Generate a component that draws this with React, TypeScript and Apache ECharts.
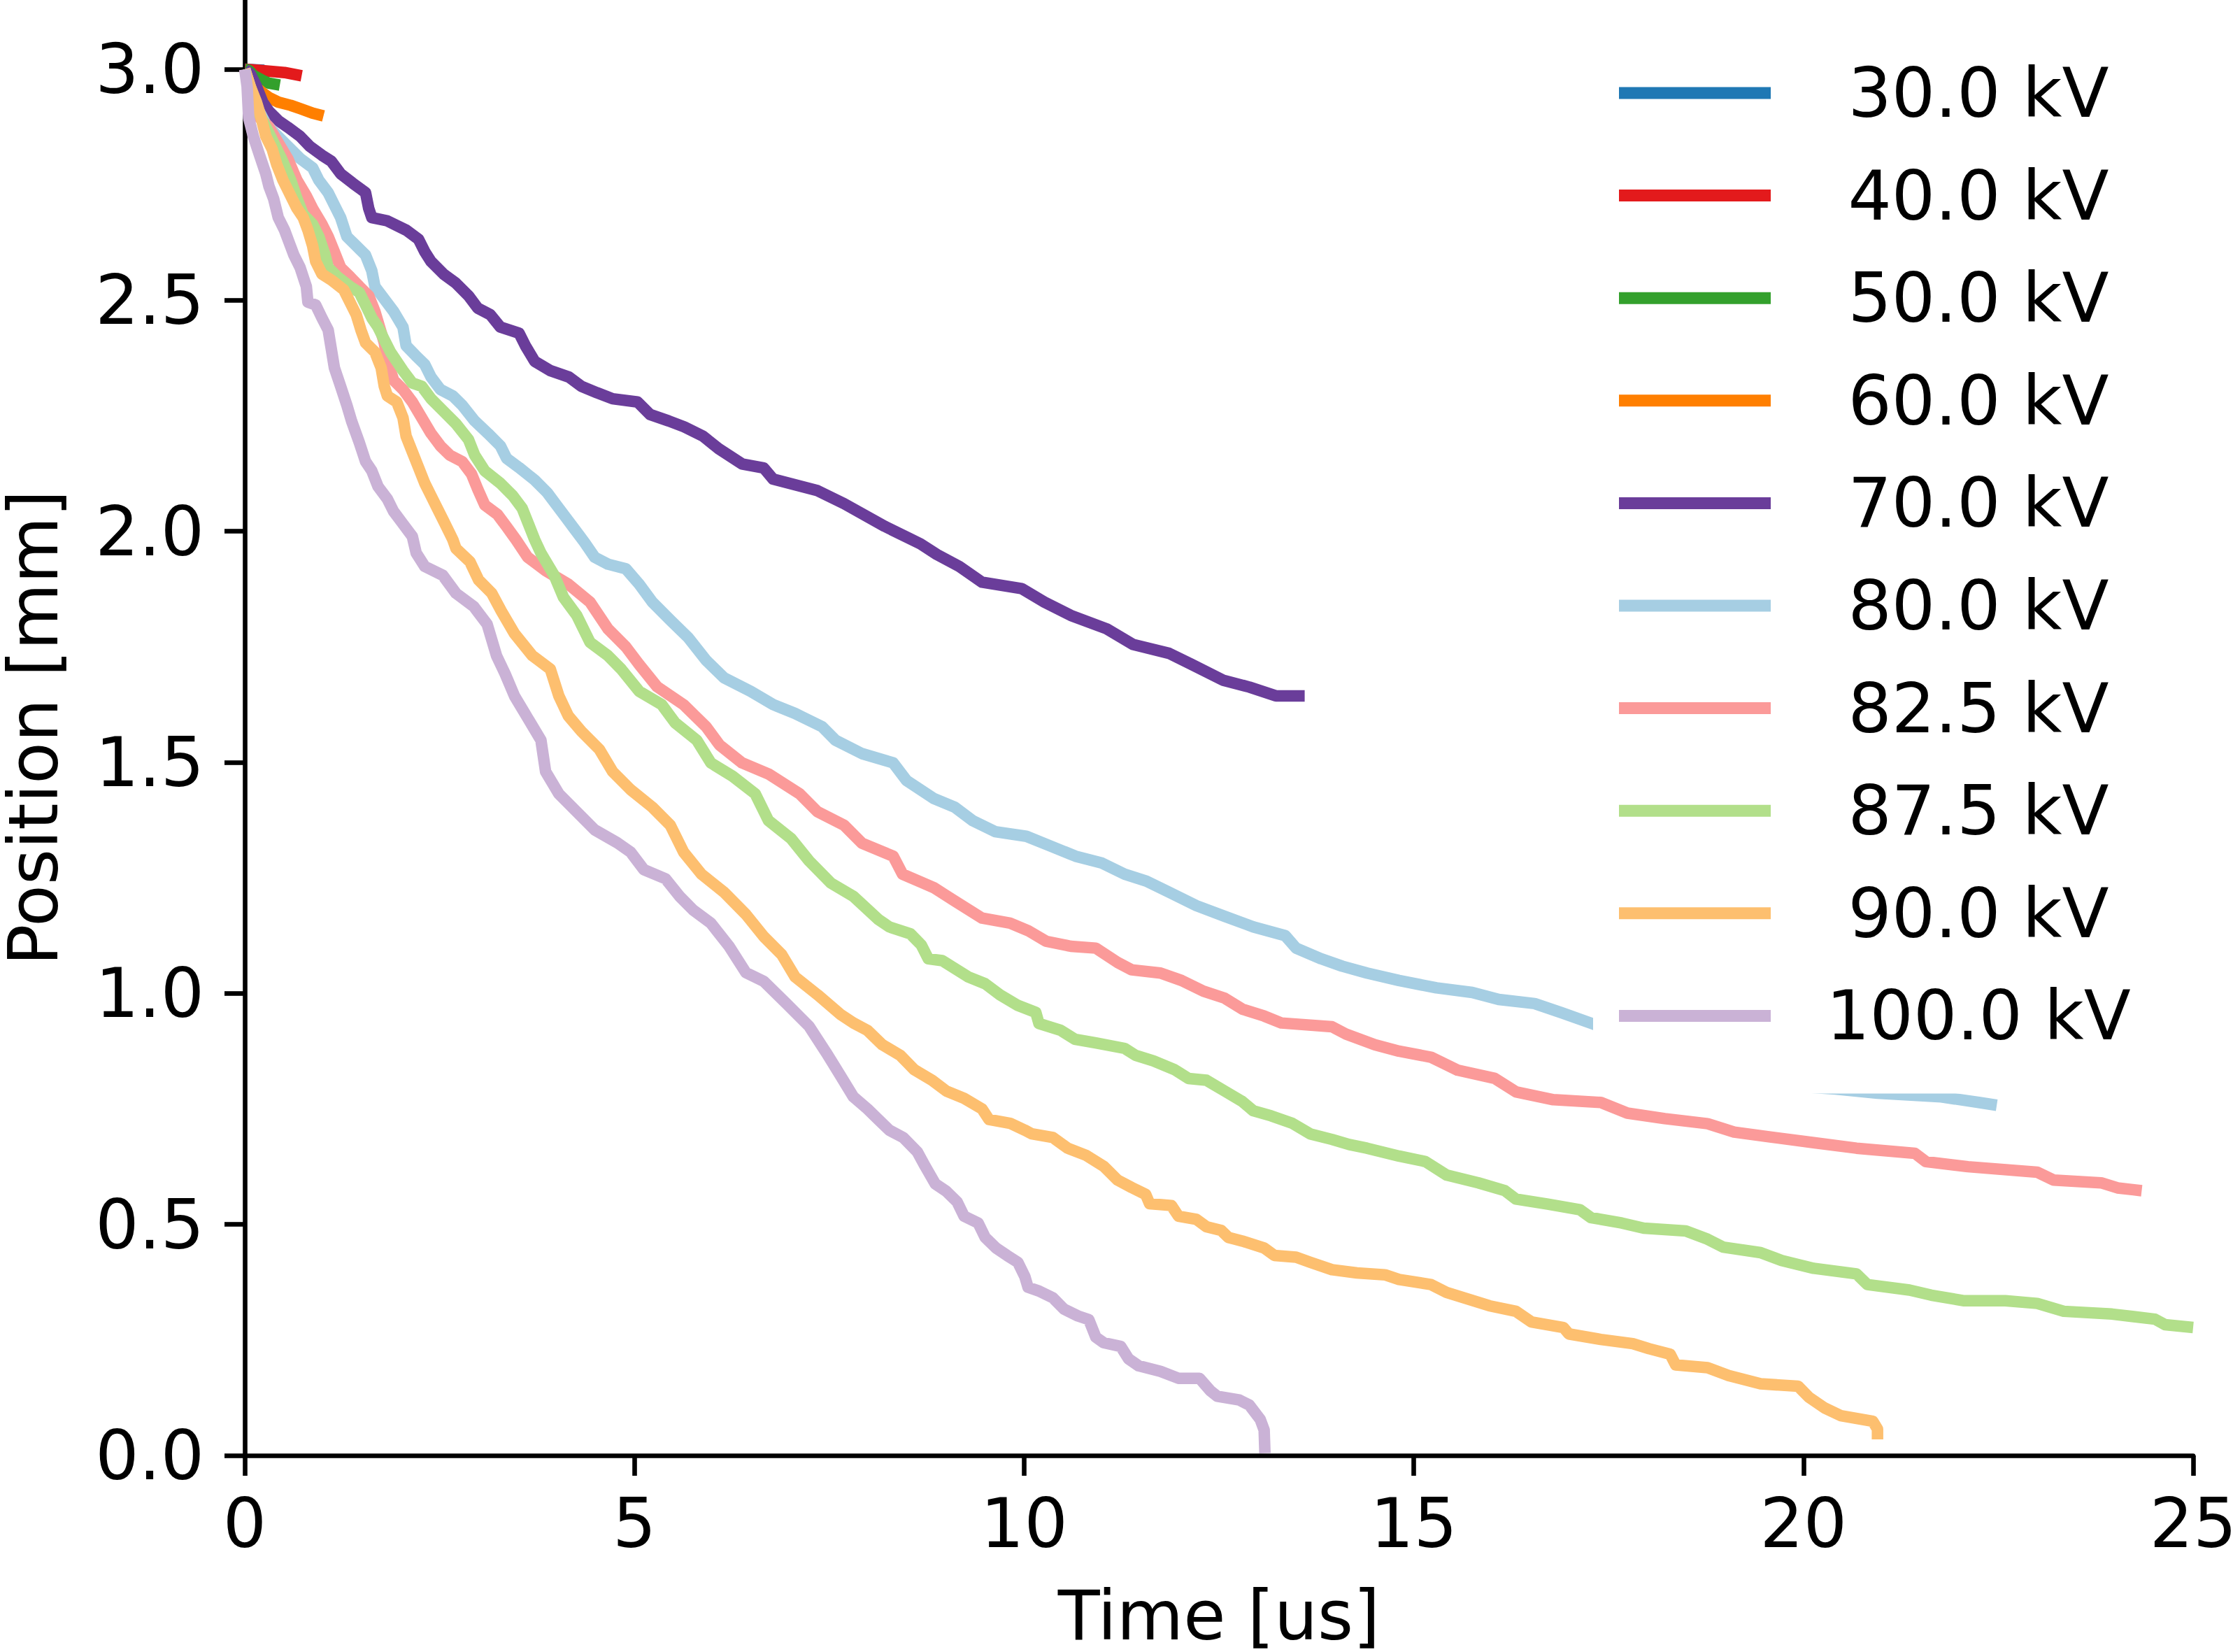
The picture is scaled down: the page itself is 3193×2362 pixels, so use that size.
import React, { useEffect, useRef } from "react";
import * as echarts from "echarts";

// Legend names (series order)
const names = ["30.0 kV", "40.0 kV", "50.0 kV", "60.0 kV", "70.0 kV", "80.0 kV", "82.5 kV", "87.5 kV", "90.0 kV", "100.0 kV"];
const colors = ["#1f78b4", "#e31a1c", "#33a02c", "#ff7f00", "#6a3d9a", "#a6cee3", "#fb9a99", "#b2df8a", "#fdbf6f", "#cab2d6"];

const xTicks = [0, 5, 10, 15, 20, 25];
const yTicks = [0, 0.5, 1, 1.5, 2, 2.5, 3];

// [time (us), position (mm)]
const kv30 = [[0, 3.0], [0.12, 2.999], [0.25, 2.998]];
const kv40 = [[0, 3.0], [0.23, 2.997], [0.51, 2.993], [0.73, 2.986]];
const kv50 = [[0, 3.0], [0.05, 2.998], [0.11, 2.987], [0.23, 2.976], [0.31, 2.97], [0.45, 2.966]];
const kv60 = [[0, 3.0], [0.07, 2.976], [0.13, 2.963], [0.23, 2.949], [0.31, 2.939], [0.43, 2.929], [0.59, 2.922], [0.71, 2.915], [0.87, 2.905], [1.01, 2.899]];
const kv70 = [[0, 3.0], [0.07, 2.99], [0.15, 2.963], [0.23, 2.929], [0.31, 2.909], [0.43, 2.889], [0.55, 2.875], [0.71, 2.855], [0.83, 2.834], [0.99, 2.814], [1.11, 2.801], [1.23, 2.774], [1.39, 2.753], [1.55, 2.733], [1.59, 2.699], [1.63, 2.679], [1.83, 2.672], [2.07, 2.652], [2.23, 2.632], [2.31, 2.605], [2.39, 2.584], [2.55, 2.557], [2.71, 2.537], [2.87, 2.51], [2.99, 2.483], [3.15, 2.469], [3.28, 2.442], [3.52, 2.429], [3.6, 2.402], [3.72, 2.368], [3.92, 2.348], [4.16, 2.334], [4.32, 2.314], [4.52, 2.3], [4.72, 2.287], [5.04, 2.28], [5.2, 2.253], [5.44, 2.239], [5.64, 2.226], [5.88, 2.206], [6.08, 2.179], [6.38, 2.146], [6.66, 2.137], [6.78, 2.113], [7.35, 2.088], [7.69, 2.06], [8.21, 2.011], [8.67, 1.973], [8.88, 1.95], [9.17, 1.924], [9.46, 1.89], [9.97, 1.876], [10.26, 1.847], [10.6, 1.818], [11.06, 1.789], [11.4, 1.755], [11.86, 1.736], [12.15, 1.712], [12.55, 1.678], [12.89, 1.663], [13.23, 1.644], [13.6, 1.644]];
const kv80 = [[0, 3.0], [0.15, 2.92], [0.27, 2.882], [0.39, 2.861], [0.55, 2.834], [0.71, 2.807], [0.87, 2.787], [0.95, 2.76], [1.07, 2.733], [1.15, 2.706], [1.23, 2.679], [1.31, 2.638], [1.43, 2.618], [1.55, 2.598], [1.63, 2.564], [1.67, 2.53], [1.79, 2.503], [1.91, 2.476], [2.03, 2.442], [2.07, 2.402], [2.19, 2.381], [2.31, 2.361], [2.39, 2.334], [2.51, 2.307], [2.67, 2.293], [2.79, 2.273], [2.95, 2.239], [3.12, 2.212], [3.28, 2.185], [3.36, 2.158], [3.52, 2.138], [3.72, 2.111], [3.88, 2.084], [4.0, 2.057], [4.12, 2.03], [4.24, 2.003], [4.36, 1.976], [4.49, 1.944], [4.66, 1.929], [4.89, 1.919], [5.06, 1.886], [5.23, 1.847], [5.46, 1.808], [5.69, 1.77], [5.92, 1.721], [6.15, 1.683], [6.49, 1.654], [6.78, 1.625], [7.06, 1.606], [7.41, 1.577], [7.58, 1.548], [7.92, 1.519], [8.32, 1.499], [8.49, 1.461], [8.84, 1.422], [9.11, 1.403], [9.34, 1.374], [9.63, 1.35], [10.03, 1.34], [10.31, 1.321], [10.66, 1.297], [11.0, 1.282], [11.29, 1.258], [11.57, 1.243], [11.86, 1.219], [12.21, 1.19], [12.57, 1.167], [12.94, 1.144], [13.35, 1.125], [13.49, 1.098], [13.81, 1.075], [14.08, 1.059], [14.4, 1.044], [14.81, 1.028], [15.29, 1.012], [15.75, 1.002], [16.09, 0.987], [16.55, 0.978], [16.9, 0.958], [17.3, 0.934], [18.0, 0.89], [18.8, 0.85], [19.8, 0.8], [20.41, 0.793], [20.95, 0.784], [21.77, 0.776], [22.25, 0.764], [22.48, 0.758]];
const kv825 = [[0, 3.0], [0.15, 2.902], [0.31, 2.875], [0.43, 2.841], [0.55, 2.807], [0.67, 2.76], [0.79, 2.726], [0.87, 2.699], [0.99, 2.665], [1.07, 2.638], [1.15, 2.605], [1.23, 2.571], [1.35, 2.551], [1.47, 2.53], [1.59, 2.51], [1.67, 2.476], [1.73, 2.442], [1.79, 2.408], [1.83, 2.368], [1.91, 2.327], [2.03, 2.307], [2.15, 2.28], [2.27, 2.246], [2.39, 2.212], [2.51, 2.185], [2.63, 2.165], [2.79, 2.151], [2.91, 2.124], [2.99, 2.091], [3.08, 2.057], [3.24, 2.037], [3.36, 2.01], [3.48, 1.982], [3.63, 1.944], [3.86, 1.915], [4.15, 1.886], [4.43, 1.847], [4.66, 1.789], [4.89, 1.75], [5.06, 1.712], [5.29, 1.664], [5.63, 1.625], [5.92, 1.577], [6.09, 1.538], [6.38, 1.499], [6.72, 1.475], [7.12, 1.432], [7.35, 1.393], [7.69, 1.364], [7.92, 1.325], [8.32, 1.297], [8.44, 1.258], [8.84, 1.229], [9.11, 1.2], [9.46, 1.163], [9.82, 1.152], [10.05, 1.136], [10.28, 1.113], [10.6, 1.102], [10.92, 1.098], [11.2, 1.067], [11.38, 1.051], [11.75, 1.044], [12.02, 1.028], [12.3, 1.005], [12.57, 0.99], [12.8, 0.966], [13.08, 0.951], [13.3, 0.936], [13.95, 0.928], [14.13, 0.912], [14.5, 0.889], [14.81, 0.875], [15.22, 0.862], [15.56, 0.834], [16.04, 0.816], [16.31, 0.787], [16.79, 0.77], [17.4, 0.764], [17.74, 0.741], [18.22, 0.729], [18.77, 0.718], [19.11, 0.7], [19.59, 0.689], [20.13, 0.677], [20.68, 0.665], [21.43, 0.654], [21.57, 0.636], [22.11, 0.625], [23.0, 0.613], [23.21, 0.596], [23.82, 0.59], [24.03, 0.579], [24.34, 0.573]];
const kv875 = [[0, 3.0], [0.11, 2.929], [0.23, 2.889], [0.35, 2.848], [0.47, 2.807], [0.59, 2.76], [0.67, 2.72], [0.75, 2.686], [0.87, 2.665], [0.95, 2.638], [1.03, 2.598], [1.07, 2.571], [1.19, 2.551], [1.35, 2.53], [1.47, 2.517], [1.55, 2.49], [1.63, 2.462], [1.71, 2.442], [1.79, 2.415], [1.87, 2.388], [1.95, 2.368], [2.03, 2.348], [2.15, 2.321], [2.27, 2.314], [2.39, 2.287], [2.55, 2.26], [2.71, 2.233], [2.87, 2.199], [2.95, 2.165], [3.08, 2.131], [3.28, 2.104], [3.44, 2.077], [3.56, 2.05], [3.64, 2.016], [3.72, 1.982], [3.8, 1.953], [3.97, 1.905], [4.09, 1.857], [4.26, 1.818], [4.43, 1.76], [4.66, 1.731], [4.83, 1.702], [5.06, 1.654], [5.35, 1.625], [5.52, 1.586], [5.8, 1.548], [5.98, 1.499], [6.26, 1.47], [6.55, 1.432], [6.72, 1.374], [7.01, 1.335], [7.24, 1.287], [7.52, 1.239], [7.81, 1.21], [8.13, 1.16], [8.27, 1.144], [8.54, 1.129], [8.68, 1.105], [8.77, 1.075], [8.95, 1.071], [9.14, 1.051], [9.28, 1.036], [9.5, 1.021], [9.69, 0.997], [9.92, 0.974], [10.15, 0.959], [10.19, 0.935], [10.47, 0.92], [10.65, 0.901], [10.92, 0.893], [11.29, 0.881], [11.43, 0.866], [11.66, 0.854], [11.93, 0.835], [12.11, 0.816], [12.34, 0.812], [12.57, 0.789], [12.8, 0.766], [12.94, 0.746], [13.17, 0.735], [13.44, 0.719], [13.67, 0.696], [13.95, 0.684], [14.17, 0.673], [14.4, 0.665], [14.81, 0.648], [15.15, 0.636], [15.42, 0.607], [15.83, 0.59], [16.17, 0.573], [16.31, 0.555], [16.72, 0.544], [17.13, 0.532], [17.27, 0.515], [17.67, 0.503], [17.95, 0.492], [18.49, 0.486], [18.77, 0.468], [18.97, 0.451], [19.45, 0.439], [19.72, 0.422], [20.13, 0.405], [20.68, 0.393], [20.82, 0.37], [21.36, 0.358], [21.64, 0.347], [22.05, 0.335], [22.59, 0.335], [23.0, 0.329], [23.34, 0.312], [23.96, 0.306], [24.51, 0.295], [24.64, 0.283], [25.0, 0.277]];
const kv90 = [[0, 3.0], [0.07, 2.963], [0.15, 2.929], [0.21, 2.895], [0.27, 2.855], [0.35, 2.828], [0.41, 2.794], [0.49, 2.76], [0.59, 2.726], [0.67, 2.699], [0.75, 2.679], [0.81, 2.652], [0.87, 2.618], [0.91, 2.584], [0.99, 2.557], [1.11, 2.544], [1.27, 2.523], [1.35, 2.496], [1.43, 2.469], [1.49, 2.436], [1.55, 2.408], [1.67, 2.388], [1.75, 2.354], [1.79, 2.314], [1.83, 2.293], [1.95, 2.28], [2.03, 2.246], [2.07, 2.206], [2.15, 2.172], [2.23, 2.138], [2.31, 2.104], [2.39, 2.077], [2.47, 2.05], [2.55, 2.023], [2.67, 1.982], [2.71, 1.963], [2.89, 1.934], [3.0, 1.895], [3.17, 1.866], [3.29, 1.828], [3.46, 1.779], [3.69, 1.731], [3.92, 1.702], [4.03, 1.644], [4.15, 1.601], [4.32, 1.567], [4.55, 1.528], [4.72, 1.48], [4.95, 1.441], [5.23, 1.403], [5.46, 1.364], [5.63, 1.306], [5.86, 1.258], [6.15, 1.219], [6.43, 1.171], [6.66, 1.123], [6.89, 1.084], [7.06, 1.036], [7.35, 0.997], [7.64, 0.955], [7.81, 0.936], [7.99, 0.92], [8.18, 0.889], [8.41, 0.866], [8.59, 0.835], [8.82, 0.812], [9.0, 0.789], [9.23, 0.773], [9.46, 0.75], [9.55, 0.727], [9.82, 0.719], [10.01, 0.704], [10.1, 0.696], [10.37, 0.688], [10.56, 0.665], [10.79, 0.65], [11.02, 0.626], [11.2, 0.596], [11.38, 0.58], [11.56, 0.565], [11.61, 0.545], [11.89, 0.541], [11.98, 0.518], [12.21, 0.511], [12.34, 0.495], [12.53, 0.487], [12.62, 0.472], [12.8, 0.464], [13.08, 0.449], [13.21, 0.433], [13.49, 0.429], [13.67, 0.418], [13.95, 0.402], [14.27, 0.395], [14.63, 0.391], [14.81, 0.381], [15.22, 0.37], [15.42, 0.353], [15.76, 0.335], [15.97, 0.324], [16.31, 0.312], [16.51, 0.289], [16.92, 0.277], [16.99, 0.263], [17.4, 0.251], [17.81, 0.242], [18.02, 0.231], [18.29, 0.219], [18.36, 0.196], [18.77, 0.19], [19.04, 0.173], [19.45, 0.155], [19.93, 0.15], [20.07, 0.126], [20.27, 0.103], [20.48, 0.086], [20.89, 0.074], [20.95, 0.057], [20.95, 0.035]];
const kv100 = [[0, 3.0], [0.03, 2.963], [0.05, 2.895], [0.11, 2.855], [0.19, 2.814], [0.27, 2.774], [0.31, 2.747], [0.37, 2.72], [0.43, 2.679], [0.51, 2.652], [0.57, 2.625], [0.63, 2.598], [0.71, 2.571], [0.79, 2.53], [0.81, 2.496], [0.91, 2.49], [0.99, 2.462], [1.07, 2.436], [1.11, 2.395], [1.15, 2.354], [1.23, 2.314], [1.31, 2.273], [1.37, 2.239], [1.47, 2.192], [1.55, 2.151], [1.63, 2.131], [1.71, 2.097], [1.83, 2.07], [1.91, 2.043], [2.03, 2.016], [2.15, 1.989], [2.2, 1.953], [2.31, 1.924], [2.54, 1.905], [2.71, 1.866], [2.94, 1.837], [3.11, 1.799], [3.23, 1.731], [3.34, 1.692], [3.46, 1.644], [3.63, 1.596], [3.8, 1.548], [3.86, 1.48], [4.03, 1.432], [4.26, 1.393], [4.49, 1.354], [4.78, 1.326], [4.95, 1.306], [5.12, 1.268], [5.4, 1.248], [5.58, 1.21], [5.75, 1.181], [5.98, 1.152], [6.21, 1.103], [6.43, 1.045], [6.66, 1.026], [6.95, 0.978], [7.24, 0.929], [7.46, 0.872], [7.64, 0.823], [7.81, 0.776], [7.99, 0.75], [8.13, 0.727], [8.27, 0.704], [8.45, 0.688], [8.63, 0.657], [8.73, 0.626], [8.86, 0.588], [9.0, 0.572], [9.14, 0.549], [9.23, 0.518], [9.41, 0.503], [9.5, 0.472], [9.64, 0.449], [9.78, 0.433], [9.92, 0.418], [10.01, 0.387], [10.05, 0.364], [10.19, 0.356], [10.37, 0.341], [10.51, 0.317], [10.69, 0.302], [10.83, 0.294], [10.92, 0.256], [11.02, 0.244], [11.24, 0.236], [11.34, 0.209], [11.47, 0.194], [11.75, 0.182], [11.98, 0.167], [12.25, 0.167], [12.39, 0.14], [12.48, 0.128], [12.76, 0.12], [12.89, 0.109], [13.03, 0.078], [13.08, 0.055], [13.09, 0.005]];

const seriesData = [kv30, kv40, kv50, kv60, kv70, kv80, kv825, kv875, kv90, kv100];

const FONT = "DejaVu Sans";

export default function App() {
  const ref = useRef<HTMLDivElement>(null);
  useEffect(() => {
    document.body.style.margin = "0";
    const chart = echarts.init(ref.current as HTMLDivElement, null, { renderer: "svg" });
    const axisLineStyle = { color: "#000", width: 6.6 };
    chart.setOption({
      animation: false,
      backgroundColor: "#fff",
      grid: { left: 350, right: 57, top: 0, bottom: 281, containLabel: false, outerBoundsMode: "none" },
      xAxis: {
        type: "value",
        min: 0,
        max: 25,
        interval: 5,
        name: "Time [us]",
        nameLocation: "middle",
        nameGap: 180,
        nameTextStyle: { fontFamily: FONT, fontSize: 98, color: "#000" },
        axisLine: { show: true, onZero: false, lineStyle: axisLineStyle },
        axisTick: { show: true, inside: false, length: 29, lineStyle: axisLineStyle, customValues: xTicks },
        axisLabel: { fontFamily: FONT, fontSize: 98, color: "#000", margin: 48, customValues: xTicks, formatter: (v: number) => String(v) },
        splitLine: { show: false },
      },
      yAxis: {
        type: "value",
        min: 0,
        max: 3.15,
        name: "Position [mm]",
        nameLocation: "middle",
        nameGap: 253,
        nameRotate: 90,
        nameTextStyle: { fontFamily: FONT, fontSize: 98, color: "#000" },
        axisLine: { show: true, onZero: false, lineStyle: axisLineStyle },
        axisTick: { show: true, inside: false, length: 29, lineStyle: axisLineStyle, customValues: yTicks },
        axisLabel: { fontFamily: FONT, fontSize: 98, color: "#000", margin: 58, customValues: yTicks, formatter: (v: number) => v.toFixed(1) },
        splitLine: { show: false },
      },
      legend: {
        orient: "vertical",
        left: 2278,
        top: 34,
        padding: [50, 37, 62, 37],
        backgroundColor: "#fff",
        borderWidth: 0,
        itemWidth: 217,
        itemHeight: 17,
        itemGap: 48.6,
        itemTextGap: 0,
        icon: "rect",
        selectedMode: false,
        data: names,
        formatter: (n: string) => `{c|${n}}`,
        textStyle: {
          fontFamily: FONT,
          fontSize: 98,
          color: "#000",
          rich: { c: { fontFamily: FONT, fontSize: 98, color: "#000", lineHeight: 100, width: 584, align: "center" } },
        },
      },
      series: seriesData.map((d, i) => ({
        name: names[i],
        type: "line",
        data: d,
        showSymbol: false,
        symbol: "none",
        clip: true,
        itemStyle: { color: colors[i] },
        lineStyle: { color: colors[i], width: 16.5, join: "round", cap: "butt" },
        emphasis: { disabled: true },
      })),
    });
    return () => chart.dispose();
  }, []);
  return <div ref={ref} style={{ position: "absolute", left: 0, top: 0, width: 3193, height: 2362 }} />;
}
